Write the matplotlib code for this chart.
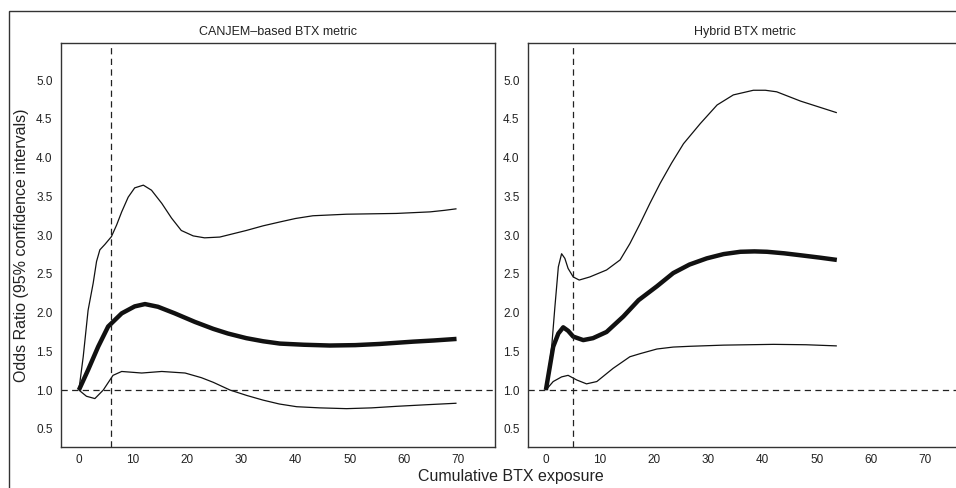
import matplotlib
matplotlib.use("Agg")
import matplotlib.pyplot as plt
from matplotlib.patches import Rectangle

plt.rcParams['font.family'] = ['Liberation Sans', 'DejaVu Sans']

# CANJEM-based BTX metric: x, estimate, lower CI, upper CI
canjem_x_est = [0, 1.7, 3.56, 5.4, 7.9, 10.3, 12.2, 14.6, 17.7, 21.4, 24.8, 27.5, 30.9, 34.0, 37.1,
                41.5, 46.3, 51.0, 55.5, 61.7, 65.5, 69.7]
canjem_est = [1.0, 1.26, 1.56, 1.82, 1.99, 2.08, 2.11, 2.075, 1.99, 1.88, 1.79, 1.73, 1.67, 1.63, 1.60,
              1.585, 1.575, 1.58, 1.595, 1.625, 1.64, 1.66]

canjem_x_lo = [0, 1.4, 2.95, 4.5, 6.3, 7.9, 11.6, 15.3, 19.6, 22.6, 24.8, 27.9, 31.0, 34.0, 37.0,
               40.2, 44.5, 49.4, 54.0, 58.6, 64.0, 69.7]
canjem_lo = [1.0, 0.92, 0.89, 1.0, 1.19, 1.24, 1.22, 1.24, 1.22, 1.16, 1.10, 1.0, 0.93, 0.87, 0.82,
             0.785, 0.77, 0.76, 0.77, 0.79, 0.81, 0.83]

canjem_x_hi = [0, 0.8, 1.7, 2.64, 3.26, 3.87, 4.8, 6.0, 6.96, 7.9, 9.1, 10.3, 11.9, 13.4, 15.3, 17.1,
               18.9, 21.1, 23.2, 26.0, 30.9, 34.0, 37.1, 40.0, 43.2, 49.4, 58.6, 64.8, 67.5, 69.7]
canjem_hi = [1.0, 1.43, 2.03, 2.38, 2.66, 2.81, 2.88, 2.98, 3.13, 3.30, 3.49, 3.61, 3.645, 3.58, 3.41, 3.22,
             3.06, 2.99, 2.965, 2.975, 3.06, 3.12, 3.17, 3.215, 3.25, 3.27, 3.28, 3.30, 3.32, 3.34]

# Hybrid BTX metric
hybrid_x_est = [0, 1.35, 2.3, 3.2, 4.1, 5.05, 6.9, 8.7, 11.2, 14.3, 17.1, 20.5, 23.5, 26.5, 29.7,
                32.8, 35.9, 38.5, 40.8, 44.0, 47.0, 50.5, 53.7]
hybrid_est = [1.0, 1.56, 1.73, 1.81, 1.765, 1.69, 1.645, 1.67, 1.75, 1.95, 2.16, 2.34, 2.51, 2.62, 2.70,
              2.755, 2.785, 2.79, 2.785, 2.765, 2.74, 2.71, 2.68]

hybrid_x_lo = [0, 1.35, 2.9, 4.1, 5.7, 7.5, 9.4, 12.4, 15.5, 17.4, 20.5, 23.5, 26.6, 32.8, 42.0, 48.0, 53.7]
hybrid_lo = [1.0, 1.11, 1.17, 1.19, 1.13, 1.08, 1.11, 1.28, 1.43, 1.47, 1.53, 1.555, 1.565, 1.58, 1.59,
             1.585, 1.57]

hybrid_x_hi = [0, 1.05, 1.66, 2.3, 2.9, 3.5, 4.1, 5.05, 6.15, 8.1, 11.2, 13.7, 15.5, 17.4, 19.2, 21.1,
               23.2, 25.4, 28.5, 31.6, 34.6, 38.3, 40.5, 42.6, 47.0, 53.7]
hybrid_hi = [1.0, 1.54, 2.07, 2.59, 2.76, 2.70, 2.57, 2.46, 2.42, 2.46, 2.55, 2.68, 2.89, 3.15, 3.41, 3.67,
             3.93, 4.18, 4.44, 4.68, 4.81, 4.87, 4.87, 4.85, 4.73, 4.58]

panel_titles = ["CANJEM\u2013based BTX metric", "Hybrid BTX metric"]
cutpoints = [6.0, 5.0]
x_ticks = [0, 10, 20, 30, 40, 50, 60, 70]
y_ticks = [0.5, 1.0, 1.5, 2.0, 2.5, 3.0, 3.5, 4.0, 4.5, 5.0]

W, H = 956, 488
fig = plt.figure(figsize=(W / 100, H / 100), dpi=100)

# outer frame (cropped at right and bottom)
fig.add_artist(Rectangle((9 / W, -0.1), 1.2, 1 - 11 / H + 0.1, transform=fig.transFigure,
                         fill=False, edgecolor='#333333', linewidth=1.0))

ax_w = 434 / W
ax_b = 1 - 447 / H
ax_h = (447 - 43) / H
ax1 = fig.add_axes([61 / W, ax_b, ax_w, ax_h])
ax2 = fig.add_axes([528 / W, ax_b, ax_w, ax_h])

data = [
    (canjem_x_est, canjem_est, canjem_x_lo, canjem_lo, canjem_x_hi, canjem_hi),
    (hybrid_x_est, hybrid_est, hybrid_x_lo, hybrid_lo, hybrid_x_hi, hybrid_hi),
]

for ax, d, title, cut in zip([ax1, ax2], data, panel_titles, cutpoints):
    xe, ye, xl, yl, xh, yh = d
    ax.plot(xh, yh, color='#111111', lw=0.9, solid_capstyle='butt', solid_joinstyle='round')
    ax.plot(xl, yl, color='#111111', lw=0.9, solid_capstyle='butt', solid_joinstyle='round')
    ax.plot(xe, ye, color='#111111', lw=3.2, solid_capstyle='butt', solid_joinstyle='round')
    ax.axhline(1.0, color='#222222', lw=0.9, dashes=(5, 3.5))
    ax.axvline(cut, color='#222222', lw=0.9, dashes=(5, 3.5))
    ax.set_xlim(-3.3, 76.8)
    ax.set_ylim(0.265, 5.48)
    ax.set_xticks(x_ticks)
    ax.set_yticks(y_ticks)
    ax.set_yticklabels([f"{v:.1f}" for v in y_ticks])
    ax.tick_params(axis='both', length=0, labelsize=8.5, colors='#222222')
    ax.tick_params(axis='y', pad=6)
    ax.tick_params(axis='x', pad=5)
    for s in ax.spines.values():
        s.set_color('#333333')
        s.set_linewidth(1.0)
    ax.set_title(title, fontsize=9, pad=6, color='#222222')

fig.text(22 / W, 1 - 245 / H, "Odds Ratio (95% confidence intervals)", rotation=90,
         ha='center', va='center', fontsize=11.5, color='#222222')
fig.text(511 / W, 1 - 481 / H, "Cumulative BTX exposure", ha='center', va='baseline',
         fontsize=11.5, color='#222222')

fig.savefig("out.png", dpi=100)
